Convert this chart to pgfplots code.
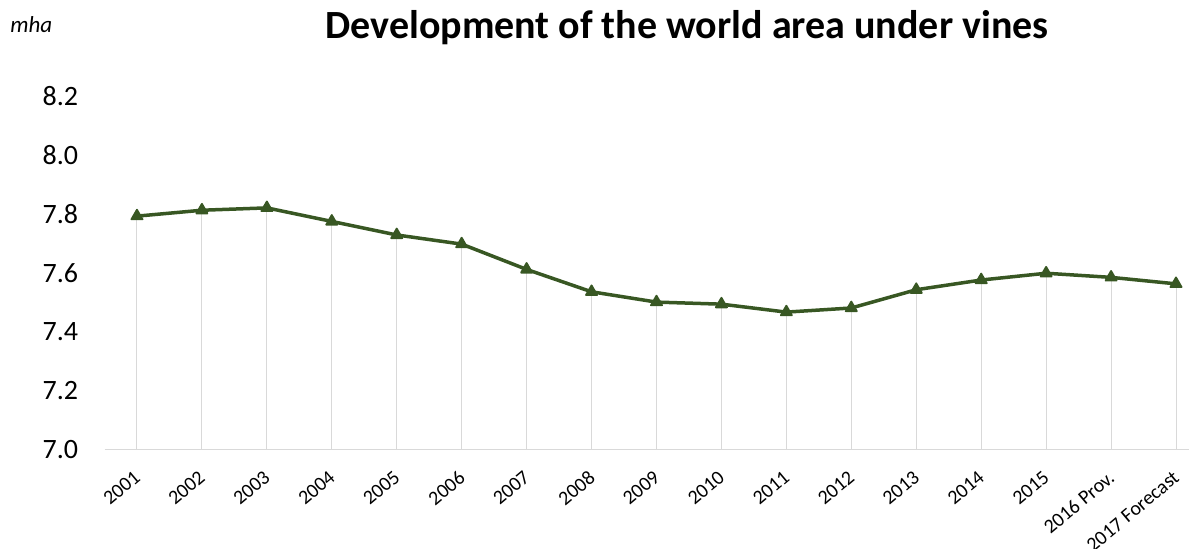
\documentclass[border=0pt]{standalone}
\usepackage{fontspec}
\setmainfont{Carlito}
\usepackage{pgfplots}
\pgfplotsset{compat=1.18}
\definecolor{vine}{HTML}{385723}
\definecolor{lgray}{HTML}{D9D9D9}
\begin{document}
\begin{tikzpicture}
\path[use as bounding box] (-52.25pt,-49.35pt) rectangle (545.25pt,224.65pt);
\begin{axis}[
  at={(0,0)}, anchor=south west,
  scale only axis,
  width=542.25pt, height=176.65pt,
  xmin=-0.5, xmax=16.2,
  ymin=7.0, ymax=8.2,
  ytick={7.0,7.2,7.4,7.6,7.8,8.0,8.2},
  xtick={0,...,16},
  xticklabels={2001,2002,2003,2004,2005,2006,2007,2008,2009,2010,2011,2012,2013,2014,2015,2016 Prov.,2017 Forecast},
  axis x line*=bottom,
  axis y line*=left,
  y axis line style={draw=none},
  x axis line style={draw=lgray, line width=0.6pt, -},
  major tick length=0pt,
  /pgf/number format/assume math mode=true,
  yticklabel={\pgfmathprintnumber[fixed, fixed zerofill, precision=1]{\tick}},
  yticklabel style={font=\fontsize{14}{16}\selectfont, anchor=east, inner sep=0pt, xshift=-13pt},
  ytick style={draw=none}, xtick style={draw=none},
  clip=false,
  xticklabel style={font=\fontsize{10}{11}\selectfont, anchor=north east, inner sep=0pt, rotate=40, xshift=-7.96pt, yshift=-6.37pt},
]
\addplot[lgray, line width=0.5pt, ycomb, no marks] coordinates {
(0,7.792) (1,7.812) (2,7.820) (3,7.774) (4,7.728) (5,7.697) (6,7.611) (7,7.535) (8,7.500) (9,7.493) (10,7.466) (11,7.480) (12,7.542) (13,7.575) (14,7.598) (15,7.584) (16,7.562)
};
\addplot[vine, line width=1.75pt, mark=triangle*, mark size=3.2pt, mark options={fill=vine, line width=0.9pt, line join=round}] coordinates {
(0,7.792) (1,7.812) (2,7.820) (3,7.774) (4,7.728) (5,7.697) (6,7.611) (7,7.535) (8,7.500) (9,7.493) (10,7.466) (11,7.480) (12,7.542) (13,7.575) (14,7.598) (15,7.584) (16,7.562)
};
\end{axis}
\node[font=\fontsize{20}{23}\selectfont\bfseries, inner sep=0pt] at (291.25pt,210.65pt) {Development of the world area under vines};
\node[font=\fontsize{11.5}{13}\selectfont\itshape, anchor=west, inner sep=0pt] at (-47.25pt,212.15pt) {mha};
\end{tikzpicture}
\end{document}
